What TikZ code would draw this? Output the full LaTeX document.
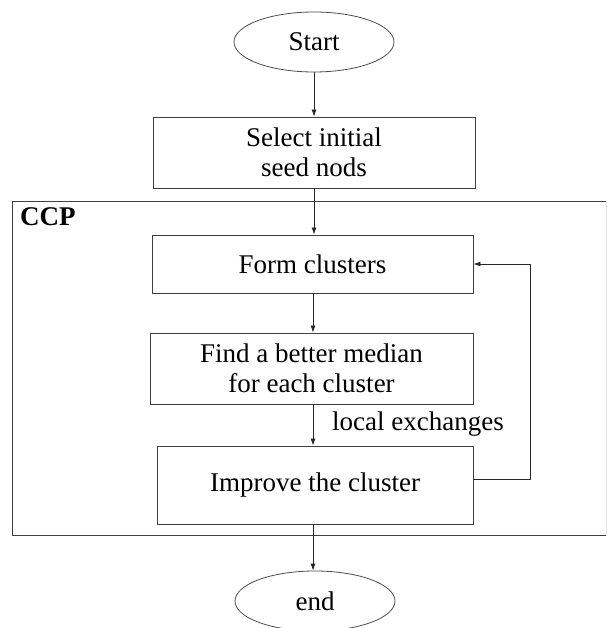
\documentclass[tikz,border=0pt]{standalone}
\usepackage{fontspec}
\setmainfont{Liberation Serif}
\usetikzlibrary{shapes.geometric,arrows.meta}
\begin{document}
\begin{tikzpicture}[x=1pt,y=-1pt,
  every node/.style={font=\fontsize{27}{30}\selectfont, inner sep=0pt, align=center},
  oval/.style={ellipse, draw=black!70, line width=0.8pt, minimum width=160pt, minimum height=60pt},
  stepbox/.style={rectangle, draw=black!75, line width=0.9pt},
  conn/.style={draw=black!85, line width=0.8pt, -{Latex[length=7pt,width=5pt]}}
]
\useasboundingbox (0,0) rectangle (606,628);
\clip (0,0) rectangle (606,628);
\node[oval] (start) at (314,42) {Start};
\node[stepbox, minimum width=322pt, minimum height=71pt] (sel) at (314,152.5) {Select initial\\ seed nods};
\node[stepbox, minimum width=594pt, minimum height=334pt] (ccp) at (309,368) {};
\node[font=\fontsize{27}{30}\selectfont\bfseries, anchor=north west] (ccplabel) at (20,207) {CCP};
\node[stepbox, minimum width=321pt, minimum height=58pt] (form) at (312.5,264) {Form clusters};
\node[stepbox, minimum width=323pt, minimum height=71pt] (find) at (311.5,368.5) {Find a better median\\ for each cluster};
\node[stepbox, minimum width=316pt, minimum height=78pt] (imp) at (315,485) {Improve the cluster};
\node[oval] (end) at (315,601) {end};
\node (lex) at (418,424) {local exchanges};
\draw[conn] (start.south -| 314,0) -- (sel.north -| 314,0);
\draw[conn] (sel.south -| 314,0) -- (form.north -| 314,0);
\draw[conn] (form.south -| 313,0) -- (find.north -| 313,0);
\draw[conn] (find.south -| 313,0) -- (imp.north -| 313,0);
\draw[conn] (imp.south -| 313,0) -- (end.north -| 313,0);
\coordinate (fb) at (530,479);
\draw[conn] (imp.east |- fb) -- (fb) |- (form.east);
\end{tikzpicture}
\end{document}
